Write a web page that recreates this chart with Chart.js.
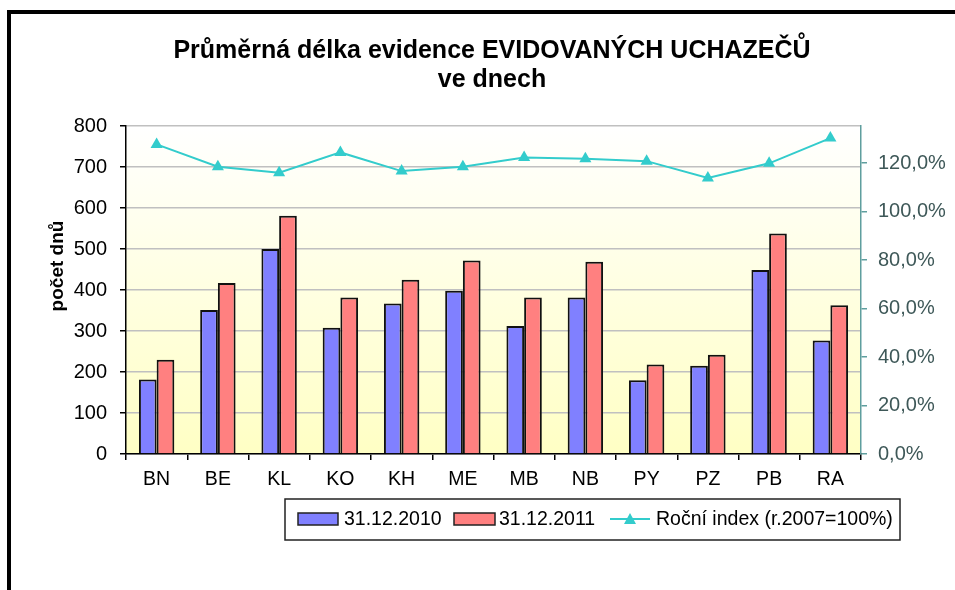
<!DOCTYPE html>
<html>
<head>
<meta charset="utf-8">
<script src="https://cdn.jsdelivr.net/npm/chart.js@4/dist/chart.umd.min.js"></script>
<style>
  html, body { margin: 0; padding: 0; background: #fff; }
</style>
</head>
<body>
<canvas id="chart" width="955" height="590"></canvas>
<script>
(() => {
    // data
    const categories = ['BN', 'BE', 'KL', 'KO', 'KH', 'ME', 'MB', 'NB', 'PY', 'PZ', 'PB', 'RA'];
    const days2010 = [182, 351, 500, 308, 367, 398, 312, 382, 180, 215, 449, 277];
    const days2011 = [230, 417, 581, 382, 425, 472, 382, 469, 218, 242, 538, 363];
    const yearIndex = [127.7, 118.5, 116.0, 124.4, 116.7, 118.5, 122.3, 121.8, 120.8, 113.9, 119.9, 130.3];
    const seriesLabels = ['31.12.2010', '31.12.2011', 'Roční index (r.2007=100%)'];
    const titleLines = ['Průměrná délka evidence EVIDOVANÝCH UCHAZEČŮ', 've dnech'];
    const yTitle = 'počet dnů';

    const FONT = '"Liberation Sans", Arial, sans-serif';
    const BLUE = '#8080FF';
    const RED = '#FF8080';
    const TEAL = '#33CCCC';

    // frame, plot background, title, axis title, legend box
    const decor = {
        id: 'decor',
        beforeDraw(chart) {
            const ctx = chart.ctx;
            const a = chart.chartArea;
            ctx.save();
            ctx.fillStyle = '#fff';
            ctx.fillRect(0, 0, chart.width, chart.height);
            ctx.fillStyle = '#000';
            ctx.fillRect(7, 10, chart.width - 7, 4);
            ctx.fillRect(7, 10, 4, chart.height - 10);
            const g = ctx.createLinearGradient(0, a.top, 0, a.bottom);
            g.addColorStop(0, '#FFFFFF');
            g.addColorStop(1, '#FFFFC4');
            ctx.fillStyle = g;
            ctx.fillRect(a.left, a.top, a.right - a.left, a.bottom - a.top);
            ctx.restore();
        },
        afterDraw(chart) {
            const ctx = chart.ctx;
            ctx.save();
            ctx.fillStyle = '#000';
            ctx.textAlign = 'center';
            ctx.textBaseline = 'middle';
            ctx.font = 'bold 25px ' + FONT;
            ctx.fillText(titleLines[0], 492, 51);
            ctx.fillText(titleLines[1], 492, 80);

            ctx.translate(58, 266);
            ctx.rotate(-Math.PI / 2);
            ctx.font = 'bold 19px ' + FONT;
            ctx.fillText(yTitle, 0, 0);
            ctx.setTransform(1, 0, 0, 1, 0, 0);

            // legend
            ctx.fillStyle = '#fff';
            ctx.fillRect(285, 499, 615, 41);
            ctx.strokeStyle = '#222';
            ctx.lineWidth = 1.5;
            ctx.strokeRect(285, 499, 615, 41);
            ctx.font = '19.5px ' + FONT;
            ctx.textAlign = 'left';
            ctx.fillStyle = BLUE;
            ctx.fillRect(298, 513, 40, 12);
            ctx.strokeStyle = '#222';
            ctx.strokeRect(298, 513, 40, 12);
            ctx.fillStyle = RED;
            ctx.fillRect(454, 513, 41, 12);
            ctx.strokeRect(454, 513, 41, 12);
            ctx.strokeStyle = TEAL;
            ctx.lineWidth = 2;
            ctx.beginPath();
            ctx.moveTo(610, 519);
            ctx.lineTo(650, 519);
            ctx.stroke();
            ctx.fillStyle = TEAL;
            ctx.beginPath();
            ctx.moveTo(630, 513);
            ctx.lineTo(636, 524);
            ctx.lineTo(624, 524);
            ctx.closePath();
            ctx.fill();
            ctx.fillStyle = '#000';
            ctx.fillText(seriesLabels[0], 344, 520);
            ctx.fillText(seriesLabels[1], 499, 520);
            ctx.fillText(seriesLabels[2], 656, 520);
            ctx.restore();
        }
    };

    const pct = v => v.toFixed(1).replace('.', ',') + '%';

    new Chart(document.getElementById('chart').getContext('2d'), {
        data: {
            labels: categories,
            datasets: [
                {
                    type: 'line',
                    label: seriesLabels[2],
                    data: yearIndex,
                    yAxisID: 'y2',
                    borderColor: TEAL,
                    backgroundColor: TEAL,
                    borderWidth: 2,
                    tension: 0,
                    pointStyle: 'triangle',
                    pointRadius: 7,
                    pointBorderWidth: 0,
                    order: 0
                },
                {
                    type: 'bar',
                    label: seriesLabels[0],
                    data: days2010,
                    yAxisID: 'y',
                    backgroundColor: BLUE,
                    borderColor: '#111',
                    borderWidth: 2,
                    order: 1
                },
                {
                    type: 'bar',
                    label: seriesLabels[1],
                    data: days2011,
                    yAxisID: 'y',
                    backgroundColor: RED,
                    borderColor: '#111',
                    borderWidth: 2,
                    order: 2
                }
            ]
        },
        options: {
            responsive: false,
            animation: false,
            layout: { padding: { top: 126, left: 0, right: 0, bottom: 0 } },
            datasets: {
                bar: { barPercentage: 1, categoryPercentage: 0.578 }
            },
            scales: {
                x: {
                    offset: true,
                    afterFit: s => { s.height = 136; },
                    grid: { drawOnChartArea: false, offset: true, tickLength: 6, tickColor: '#000', lineWidth: 1.5 },
                    border: { color: '#000', width: 1.5 },
                    ticks: { color: '#000', font: { family: FONT, size: 19.5 }, padding: 8, maxRotation: 0 }
                },
                y: {
                    position: 'left',
                    min: 0,
                    max: 800,
                    afterFit: s => { s.width = 126; },
                    grid: { color: '#C0C0C0', lineWidth: 1.5, tickLength: 6, tickColor: '#000' },
                    border: { color: '#000', width: 1.5 },
                    ticks: { stepSize: 100, color: '#000', font: { family: FONT, size: 20 }, padding: 13 }
                },
                y2: {
                    position: 'right',
                    min: 0,
                    max: 135.3,
                    afterFit: s => { s.width = 94; },
                    afterBuildTicks: s => { s.ticks = s.ticks.filter(t => t.value % 20 === 0); },
                    grid: { drawOnChartArea: false, tickLength: 6, tickColor: '#5F9E9E', lineWidth: 1.5 },
                    border: { color: '#5F9E9E', width: 1.5 },
                    ticks: { stepSize: 20, color: '#3E5858', font: { family: FONT, size: 20 }, padding: 11, callback: v => pct(v) }
                }
            },
            plugins: {
                legend: { display: false },
                title: { display: false },
                tooltip: { enabled: false }
            }
        },
        plugins: [decor]
    });
})();
</script>
</body>
</html>
